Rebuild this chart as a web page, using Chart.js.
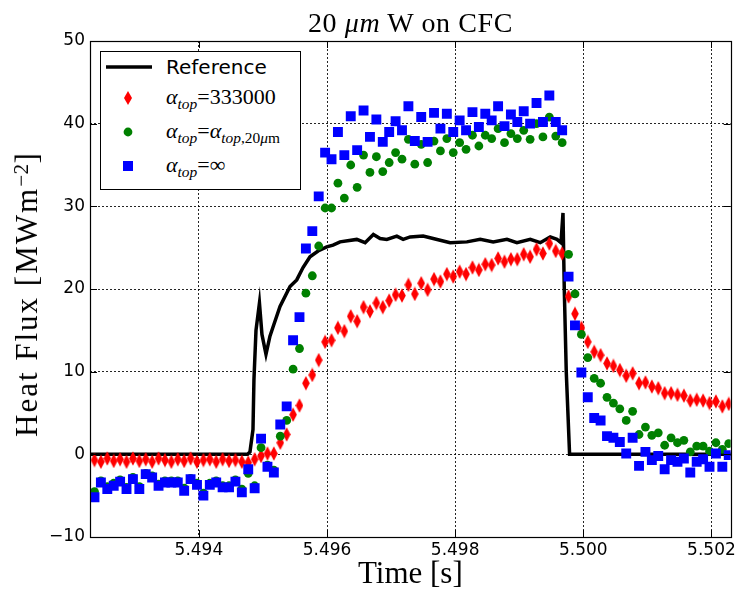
<!DOCTYPE html>
<html><head><meta charset="utf-8">
<script src="https://cdn.jsdelivr.net/npm/chart.js@4.4.1/dist/chart.umd.min.js"></script>
<style>
html,body{margin:0;padding:0;background:#fff;}
#wrap{position:relative;width:739px;height:592px;overflow:hidden;}
#c{position:absolute;left:0;top:0;}
#title{position:absolute;left:90px;width:641px;top:9px;text-align:center;font:28px/28px "Liberation Serif",serif;letter-spacing:0.6px;color:#000;white-space:nowrap;}
#ylab{position:absolute;left:27px;top:294px;width:0;height:0;}
#ylab span{position:absolute;left:0;top:0;transform:translate(-50%,-50%) rotate(-90deg);font:31px/34px "Liberation Serif",serif;letter-spacing:2px;white-space:nowrap;color:#000;}
#ylab sup{font-size:0.68em;vertical-align:0.42em;line-height:0;letter-spacing:0.5px;}
#legend{position:absolute;left:100px;top:51px;width:201px;height:139px;border:1px solid #000;background:#fff;box-sizing:border-box;}
.row{position:absolute;left:0;width:100%;height:0;}
.mk{position:absolute;left:0;top:0;}
.txt{position:absolute;left:65px;top:0;transform:translateY(-52%);white-space:nowrap;color:#000;}
.sans{font:20px/24px "DejaVu Sans",sans-serif;}
.math{font:22px/26px "Liberation Serif",serif;}
sub{font-size:0.7em;vertical-align:-0.32em;line-height:0;}
</style></head><body>
<div id="wrap">
<canvas id="c" width="739" height="592"></canvas>
<div id="title">20 <i>μm</i> W on CFC</div>
<div id="ylab"><span>Heat Flux [MWm<sup>−2</sup>]</span></div>
<div id="legend">
  <div class="row" style="top:15px"><svg class="mk" width="60" height="10" style="top:-5px"><line x1="5" y1="5" x2="51" y2="5" stroke="#000" stroke-width="3.5"/></svg><span class="txt sans">Reference</span></div>
  <div class="row" style="top:46px"><svg class="mk" width="60" height="16" style="top:-8px"><polygon points="27,1 31,8 27,15 23,8" fill="#f00"/></svg><span class="txt math"><i>α</i><sub><i>top</i></sub>=333000</span></div>
  <div class="row" style="top:80px"><svg class="mk" width="60" height="16" style="top:-8px"><circle cx="27" cy="8" r="4.4" fill="#008000"/></svg><span class="txt math"><i>α</i><sub><i>top</i></sub>=<i>α</i><sub><i>top</i>,20<i>μ</i>m</sub></span></div>
  <div class="row" style="top:114px"><svg class="mk" width="60" height="16" style="top:-8px"><rect x="22" y="3" width="10" height="10" fill="#0000ff"/></svg><span class="txt math"><i>α</i><sub><i>top</i></sub>=∞</span></div>
</div>
</div>
<script>
// ---- data ----
const time = [
5.49237,5.49247,5.49257,5.49267,5.49277,5.49287,5.49297,5.49307,5.49317,5.49327,
5.49337,5.49347,5.49357,5.49367,5.49377,5.49387,5.49397,5.49407,5.49417,5.49427,
5.49437,5.49447,5.49457,5.49467,5.49477,5.49487,5.49497,5.49507,5.49517,5.49527,
5.49537,5.49547,5.49557,5.49567,5.49577,5.49587,5.49597,5.49607,5.49617,5.49627,
5.49637,5.49647,5.49657,5.49667,5.49677,5.49687,5.49697,5.49707,5.49717,5.49727,
5.49737,5.49747,5.49757,5.49767,5.49777,5.49787,5.49797,5.49807,5.49817,5.49827,
5.49837,5.49847,5.49857,5.49867,5.49877,5.49887,5.49897,5.49907,5.49917,5.49927,
5.49937,5.49947,5.49957,5.49967,5.49977,5.49987,5.49997,5.50007,5.50017,5.50027,
5.50037,5.50047,5.50057,5.50067,5.50077,5.50087,5.50097,5.50107,5.50117,5.50127,
5.50137,5.50147,5.50157,5.50167,5.50177,5.50187,5.50197,5.50207,5.50217,5.50227];

const fluxAlpha333000 = [
-0.7,-0.9,-0.5,-0.8,-0.6,-0.9,-0.5,-0.8,-0.6,-0.9,
-0.5,-0.7,-0.9,-0.6,-0.8,-0.5,-0.9,-0.7,-0.6,-0.9,
-0.6,-0.8,-0.7,-0.9,-1.0,-0.6,-0.2,0.1,0.1,1.4,
2.4,4.8,5.9,8.6,9.6,11.4,13.6,13.8,15.3,14.9,
16.7,16.1,17.8,17.3,18.3,17.8,18.6,19.3,19.2,20.5,
19.4,20.7,19.9,21.2,20.9,21.8,21.5,22.1,21.8,22.6,
22.3,23.0,22.9,23.7,23.3,23.6,23.6,24.2,23.9,24.8,
24.3,25.5,24.6,24.3,19.1,17.0,15.3,13.6,12.4,12.0,
11.0,10.7,10.2,9.5,9.8,8.6,8.7,8.2,8.0,7.4,
7.4,7.2,7.1,6.5,6.6,6.5,6.2,6.4,5.8,6.1];

const fluxAlpha20um = [
-4.5,-3.2,-3.9,-3.5,-3.1,-4.0,-2.8,-3.9,-2.3,-2.6,
-3.6,-3.2,-3.2,-3.2,-4.1,-2.9,-3.5,-4.7,-3.5,-3.2,
-3.8,-3.8,-3.1,-4.2,-2.3,-3.8,0.8,-1.3,-1.9,2.2,
4.1,10.3,12.8,19.5,21.6,25.2,29.8,29.8,32.8,31.0,
35.0,32.3,36.2,34.1,36.0,34.2,35.3,36.5,35.7,38.1,
35.1,37.5,35.3,37.9,36.7,38.2,36.5,37.7,36.9,38.6,
37.3,38.6,38.2,39.4,37.7,38.8,38.2,39.2,38.1,40.0,
38.4,40.8,38.5,37.7,24.2,19.4,14.5,11.7,9.2,8.6,
6.9,6.2,5.5,4.1,5.2,2.4,3.3,2.3,2.6,1.1,
2.0,1.4,1.7,0.3,1.0,1.0,0.4,1.4,0.6,1.3];

const fluxAlphaInf = [
-5.2,-3.4,-4.2,-3.8,-3.3,-4.2,-3.0,-4.2,-2.4,-2.8,
-3.8,-3.4,-3.4,-3.4,-4.4,-3.0,-3.7,-5.0,-3.7,-3.4,
-4.0,-4.0,-3.3,-4.6,-1.8,-4.1,1.9,-1.5,-2.2,3.6,
5.8,13.8,16.6,24.9,27.0,31.2,36.5,35.7,39.0,36.2,
40.9,36.8,41.6,38.4,40.5,37.8,39.0,40.3,39.2,42.1,
37.9,40.8,37.8,41.3,39.4,41.2,39.0,40.4,39.2,41.4,
39.6,41.2,40.4,42.1,39.7,41.1,40.2,41.5,40.0,42.5,
40.2,43.4,40.2,39.2,21.5,15.6,9.9,6.9,4.4,4.1,
2.2,2.0,1.5,0.1,2.0,-1.4,0.3,-0.7,-0.2,-1.8,
-0.7,-0.9,-0.5,-2.2,-0.9,-0.6,-1.5,0.1,-1.5,-0.1];

const refTime = [
5.49230,5.49476,5.494797,5.494844,5.494859,5.494891,5.494945,5.494984,5.495047,5.495109,
5.495161,5.495266,5.495422,5.495527,5.495625,5.495734,5.49586,5.495995,5.496094,5.496203,
5.496464,5.496594,5.496723,5.496828,5.496933,5.497089,5.497188,5.497297,5.4975,5.497656,
5.497922,5.498183,5.498391,5.498594,5.498808,5.498964,5.499172,5.499328,5.499484,5.499589,
5.499652,5.499683,5.499703,5.499734,5.499786,5.50232];
const refFlux = [
0.0,0.0,0.3,3.0,9.0,15.0,18.3,14.5,12.1,14.3,
15.5,17.9,20.3,21.1,22.6,23.9,24.6,25.1,25.3,25.7,
26.0,25.6,26.6,26.1,26.0,26.4,26.0,26.3,26.4,26.1,
25.6,25.7,26.0,25.7,26.0,25.6,26.0,25.6,26.3,26.0,
25.6,29.2,20.0,10.0,0.0,0.0];

const xTicks = [5.494, 5.496, 5.498, 5.500, 5.502];
const xTickLabels = ['5.494', '5.496', '5.498', '5.500', '5.502'];
const yTicks = [-10, 0, 10, 20, 30, 40, 50];
const yTickLabels = ['\u221210', '0', '10', '20', '30', '40', '50'];

// ---- styling helpers ----
const diamond = document.createElement('canvas');
diamond.width = 8; diamond.height = 15;
(function(){
  const g = diamond.getContext('2d');
  g.fillStyle = '#ff0000';
  g.beginPath(); g.moveTo(4,0.3); g.lineTo(7.8,7.5); g.lineTo(4,14.7); g.lineTo(0.2,7.5); g.closePath(); g.fill();
})();

const toXY = (xs, ys) => xs.map((x, i) => ({x: x, y: ys[i]}));

const frameTicks = {
  id: 'frameTicks',
  afterDraw(chart) {
    const {ctx, chartArea: a, scales} = chart;
    ctx.save();
    ctx.strokeStyle = '#000';
    ctx.lineWidth = 1;
    ctx.beginPath();
    xTicks.forEach(v => {
      const p = Math.round(scales.x.getPixelForValue(v)) + 0.5;
      ctx.moveTo(p, a.bottom); ctx.lineTo(p, a.bottom - 7);
      ctx.moveTo(p, a.top); ctx.lineTo(p, a.top + 7);
    });
    yTicks.forEach(v => {
      const p = Math.round(scales.y.getPixelForValue(v)) + 0.5;
      ctx.moveTo(a.left, p); ctx.lineTo(a.left + 7, p);
      ctx.moveTo(a.right, p); ctx.lineTo(a.right - 7, p);
    });
    ctx.stroke();
    ctx.lineWidth = 1.2;
    ctx.strokeRect(Math.round(a.left) + 0.5, Math.round(a.top) + 0.5, Math.round(a.right - a.left), Math.round(a.bottom - a.top));
    ctx.restore();
  }
};

new Chart(document.getElementById('c'), {
  type: 'scatter',
  data: {
    datasets: [
      {label: 'Reference', data: toXY(refTime, refFlux), showLine: true, borderColor: '#000', borderWidth: 3.5,
       pointRadius: 0, tension: 0, order: 4},
      {label: 'alpha_top = 333000', data: toXY(time, fluxAlpha333000), pointStyle: diamond, pointRadius: 7,
       backgroundColor: '#ff0000', borderWidth: 0, order: 3},
      {label: 'alpha_top = alpha_top,20um', data: toXY(time, fluxAlpha20um), pointStyle: 'circle', pointRadius: 4.4,
       backgroundColor: '#008000', borderColor: '#008000', borderWidth: 0, order: 2},
      {label: 'alpha_top = inf', data: toXY(time, fluxAlphaInf), pointStyle: 'rect', pointRadius: 7,
       backgroundColor: '#0000ff', borderColor: '#0000ff', borderWidth: 0, order: 1}
    ]
  },
  options: {
    responsive: false, animation: false, devicePixelRatio: 1,
    layout: {padding: {top: 41, right: 8, left: 0, bottom: 0}},
    plugins: {legend: {display: false}, tooltip: {enabled: false}, title: {display: false}},
    scales: {
      x: {
        type: 'linear', min: 5.4923, max: 5.5023,
        afterBuildTicks: s => { s.ticks = xTicks.map(v => ({value: v})); },
        afterFit: s => { s.height = 55; },
        ticks: {font: {family: 'DejaVu Sans', size: 17}, color: '#000', padding: 3,
                callback: (v, i) => xTickLabels[i]},
        grid: {color: 'rgba(0,0,0,0.85)', lineWidth: 1, drawTicks: false},
        border: {display: false, dash: [2, 2]},
        title: {display: true, text: 'Time [s]', color: '#000',
                font: {family: 'Liberation Serif', size: 31, lineHeight: 1.1}, padding: {top: 0, bottom: 0}}
      },
      y: {
        type: 'linear', min: -10, max: 50,
        afterBuildTicks: s => { s.ticks = yTicks.map(v => ({value: v})); },
        afterFit: s => { s.width = 90; },
        ticks: {font: {family: 'DejaVu Sans', size: 17}, color: '#000', padding: 5,
                callback: (v, i) => yTickLabels[i]},
        grid: {color: 'rgba(0,0,0,0.85)', lineWidth: 1, drawTicks: false},
        border: {display: false, dash: [2, 2]},
        title: {display: false}
      }
    }
  },
  plugins: [frameTicks]
});
</script>
</body></html>
